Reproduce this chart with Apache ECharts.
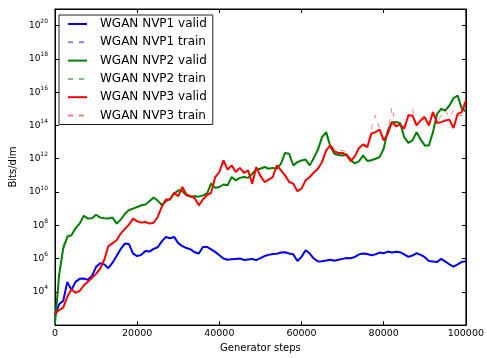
<!DOCTYPE html>
<html>
<head>
<meta charset="utf-8">
<script src="https://cdn.jsdelivr.net/npm/echarts@6/dist/echarts.min.js"></script>
<style>html,body{margin:0;padding:0;background:#fff}#c{width:487px;height:358px}</style>
</head>
<body>
<div id="c"></div>
<script>
// Generator steps (x values)
const steps = [0,1000,2000,3000,4000,5000,6000,7000,8000,9000,
10000,11000,12000,13000,14000,15000,16000,17000,18000,19000,
20000,21000,22000,23000,24000,25000,26000,27000,28000,29000,
30000,31000,32000,33000,34000,35000,36000,37000,38000,39000,
40000,41000,42000,43000,44000,45000,46000,47000,48000,49000,
50000,51000,52000,53000,54000,55000,56000,57000,58000,59000,
60000,61000,62000,63000,64000,65000,66000,67000,68000,69000,
70000,71000,72000,73000,74000,75000,76000,77000,78000,79000,
80000,81000,82000,83000,84000,85000,86000,87000,88000,89000,
90000,91000,92000,93000,94000,95000,96000,97000,98000,99000,
100000];

// Bits/dim, stored as log10 (exponent) values
const nvp1Valid = [2.6,3.25,3.45,4.6,4.1,4.6,4.78,4.8,4.72,4.95,
5.5,5.72,5.65,5.42,5.75,6.15,6.58,6.9,6.87,6.3,
6.15,6.22,6.45,6.42,6.58,6.68,7.03,7.3,7.22,7.3,
6.93,6.75,6.63,6.55,6.38,6.3,6.7,6.7,6.55,6.4,
6.2,6.0,5.93,5.96,5.98,6.0,5.92,5.95,5.98,5.9,
6.02,6.15,6.22,6.27,6.29,6.36,6.38,6.3,6.25,5.85,
6.1,6.5,6.3,6.0,5.82,5.84,5.88,5.93,5.87,5.93,
5.98,6.03,6.02,6.1,6.25,6.3,6.27,6.2,6.25,6.36,
6.32,6.42,6.37,6.41,6.38,6.25,6.1,6.18,6.32,6.22,
6.08,5.85,5.82,5.8,5.98,5.82,5.65,5.52,5.65,5.8,
5.84];
const nvp1Train = [2.6,3.3,3.5,4.55,4.15,4.62,4.8,4.78,4.75,4.98,
5.52,5.7,5.63,5.45,5.77,6.17,6.6,6.88,6.85,6.32,
6.17,6.24,6.43,6.44,6.6,6.7,7.05,7.28,7.24,7.28,
6.95,6.77,6.61,6.57,6.36,6.32,6.72,6.68,6.57,6.38,
6.22,6.02,5.95,5.94,6.0,5.98,5.94,5.93,6.0,5.92,
6.04,6.13,6.24,6.25,6.31,6.34,6.4,6.28,6.27,5.87,
6.12,6.48,6.33,6.02,5.8,5.86,5.86,5.95,5.89,5.91,
6.0,6.01,6.04,6.08,6.27,6.28,6.29,6.18,6.27,6.34,
6.34,6.4,6.39,6.39,6.4,6.23,6.12,6.16,6.34,6.2,
6.1,5.83,5.84,5.78,6.0,5.8,5.67,5.5,5.67,5.78,
5.86];
const nvp2Valid = [2.08,5.0,6.6,7.3,7.4,7.82,8.1,8.57,8.4,8.42,
8.63,8.46,8.42,8.4,8.47,8.1,8.34,8.68,8.92,9.0,
9.1,9.2,9.25,9.45,9.67,9.48,9.22,9.45,9.58,9.9,
10.1,10.05,9.8,9.72,9.75,9.72,9.8,9.9,10.5,10.25,
10.3,10.45,10.4,10.9,10.7,10.85,10.9,10.85,11.1,11.35,
11.4,11.5,11.4,11.45,11.4,11.7,12.35,12.3,11.6,11.8,
11.9,11.95,11.6,12.05,12.55,13.3,13.6,12.73,12.3,12.22,
12.2,12.25,11.9,11.72,11.85,12.2,11.87,11.91,12.0,12.1,
12.6,13.7,14.2,14.2,14.15,13.3,12.95,13.1,13.6,13.15,
12.8,12.8,13.6,14.7,15.0,14.9,15.2,15.65,15.8,15.0,
14.85];
const nvp2Train = [2.1,5.1,6.8,7.45,7.35,7.85,8.15,8.55,8.45,8.4,
8.6,8.5,8.4,8.45,8.5,8.15,8.3,8.7,8.95,8.98,
9.12,9.25,9.22,9.5,9.62,9.5,9.25,9.42,9.62,9.95,
10.05,10.1,9.82,9.7,9.78,9.7,9.85,9.95,10.6,10.2,
10.35,10.4,10.45,10.85,10.75,10.8,10.95,10.8,11.15,11.3,
11.45,11.45,11.45,11.4,11.45,11.75,12.4,12.2,11.65,11.75,
11.95,11.9,11.65,12.1,12.7,13.4,13.5,12.8,12.25,12.25,
12.15,12.3,11.85,11.75,11.8,12.25,11.85,11.95,11.95,12.15,
12.7,13.75,14.15,14.25,14.1,13.35,12.9,13.15,13.55,13.2,
12.75,12.85,13.7,14.65,15.05,14.85,15.25,15.6,15.75,15.1,
14.8];
const nvp3Valid = [2.67,2.9,3.05,3.7,4.15,3.95,4.05,4.38,4.6,4.85,
5.08,5.4,5.93,6.75,6.91,7.1,7.5,7.78,8.04,8.4,
8.24,8.16,8.2,8.1,8.15,8.5,9.12,9.55,9.55,9.95,
9.75,10.3,9.85,9.75,9.62,9.2,9.55,9.82,9.95,10.9,
11.2,11.9,11.35,11.6,11.2,11.45,11.15,11.3,10.5,11.5,
10.97,10.6,10.75,10.9,11.6,11.3,11.0,10.6,10.5,10.05,
10.2,10.7,10.9,11.17,11.4,11.8,12.5,12.8,12.45,12.34,
12.35,12.2,11.85,12.15,12.65,12.85,12.7,13.5,13.6,13.75,
13.1,13.5,14.2,13.95,14.05,13.8,14.6,14.6,14.0,14.3,
14.5,14.0,14.8,14.15,14.2,14.3,14.35,13.85,14.7,14.8,
15.5];
const nvp3Train = [2.7,2.85,3.1,3.65,4.2,3.9,4.1,4.35,4.65,4.8,
5.12,5.45,6.0,6.8,6.95,7.05,7.55,7.75,8.1,8.35,
8.28,8.12,8.25,8.15,8.1,8.55,9.2,9.5,9.6,9.9,
9.8,10.25,9.9,9.7,9.65,9.25,9.5,9.85,10.0,10.85,
11.25,11.85,11.4,11.55,11.25,11.4,11.2,11.25,10.55,11.45,
11.0,10.65,10.7,10.95,11.55,11.35,10.95,10.65,10.45,10.1,
10.25,10.65,10.95,11.2,11.35,11.85,12.45,12.9,12.6,12.5,
12.5,12.35,12.0,12.2,12.6,12.9,12.8,13.8,14.6,13.8,
13.2,13.6,15.1,14.0,14.1,13.9,14.7,15.0,14.1,14.4,
14.6,14.1,14.9,14.2,14.6,14.9,14.5,14.9,14.6,14.6,
15.3];

const seriesNames = ['WGAN NVP1 valid','WGAN NVP1 train','WGAN NVP2 valid','WGAN NVP2 train','WGAN NVP3 valid','WGAN NVP3 train'];
const seriesValues = [nvp1Valid, nvp1Train, nvp2Valid, nvp2Train, nvp3Valid, nvp3Train];
const colors = ['#0000ff','rgba(0,0,255,0.5)','#008000','rgba(0,128,0,0.5)','#ff0000','rgba(255,0,0,0.5)'];

const FONT = 'DejaVu Sans';
const chart = echarts.init(document.getElementById('c'), null, {renderer:'canvas'});

const series = seriesNames.map((name, i) => {
  const train = i % 2 === 1;
  return {
    name, type: 'line', symbol: 'none', showSymbol: false,
    data: steps.map((s, j) => [s, seriesValues[i][j]]),
    color: colors[i],
    lineStyle: train ? {width: 1, type: [5, 6], color: colors[i]} : {width: 2, color: colors[i]},
    z: 2 + i, silent: true
  };
});

function yFmt(v){
  const n = Math.round(v);
  if (Math.abs(v - n) > 1e-6 || n % 2 !== 0 || n < 4) return '';
  return '10{s|' + n + '}';
}

const axisCommon = {
  axisLine: {show: true, onZero: false, lineStyle: {color: '#000', width: 1}},
  axisTick: {show: true, inside: true, length: 4, lineStyle: {color: '#000'}},
  splitLine: {show: false}
};

chart.setOption({
  animation: false,
  backgroundColor: '#fff',
  textStyle: {fontFamily: FONT},
  grid: {left: 52, right: 20, top: 9, bottom: 26, show: true, borderColor: '#000', borderWidth: 1},
  legend: {
    orient: 'vertical', left: 59, top: 15,
    backgroundColor: '#fff', borderColor: '#222', borderWidth: 1, borderRadius: 0,
    padding: [3, 6, 3, 8], itemWidth: 19, itemHeight: 12, itemGap: 6.3,
    itemStyle: {opacity: 0},
    textStyle: {fontFamily: FONT, fontSize: 12, color: '#000', padding: [0, 0, 0, 8]},
    data: seriesNames
  },
  xAxis: [
    Object.assign({type: 'value', min: 0, max: 100000, interval: 20000,
      name: 'Generator steps', nameLocation: 'middle', nameGap: 15,
      nameTextStyle: {fontFamily: FONT, fontSize: 10, color: '#000'},
      axisLabel: {fontFamily: FONT, fontSize: 9.5, color: '#000', margin: 3,
        formatter: v => String(Math.round(v))}}, axisCommon),
    Object.assign({type: 'value', position: 'top', min: 0, max: 100000, interval: 20000,
      axisLabel: {show: false}}, axisCommon)
  ],
  yAxis: [
    Object.assign({type: 'value', min: 2, max: 21, interval: 2,
      name: 'Bits/dim', nameLocation: 'middle', nameGap: 32,
      nameTextStyle: {fontFamily: FONT, fontSize: 10, color: '#000'},
      axisLabel: {fontFamily: FONT, fontSize: 9, color: '#000', margin: 7, lineHeight: 14,
        formatter: yFmt,
        rich: {s: {fontFamily: FONT, fontSize: 6, lineHeight: 14, verticalAlign: 'top', color: '#000'}}}}, axisCommon),
    Object.assign({type: 'value', position: 'right', min: 2, max: 21, interval: 2,
      axisLabel: {show: false}}, axisCommon)
  ],
  series
});
</script>
</body>
</html>
